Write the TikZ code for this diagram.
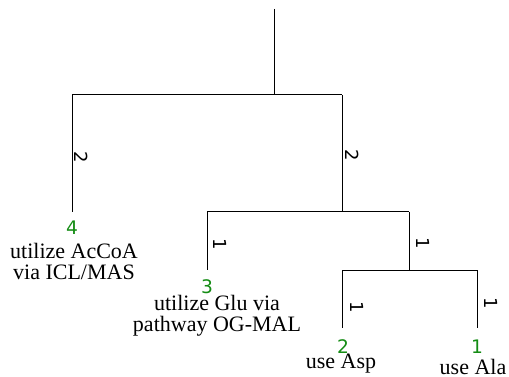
\documentclass[tikz,border=0pt]{standalone}
\usepackage{fontspec}
\setmainfont{Liberation Serif}
\newfontfamily\numfont{DejaVu Sans}
\definecolor{leafgreen}{RGB}{20,140,20}
\tikzset{
  edge/.style={draw=black, line width=0.75pt},
  leafid/.style={font=\numfont\fontsize{14}{15}\selectfont, text=leafgreen, inner sep=0pt},
  leafname/.style={font=\fontsize{16.5}{15.75}\selectfont, align=center, inner sep=0pt},
  blen/.style={font=\numfont\fontsize{13.5}{15}\selectfont, rotate=-90, inner sep=0pt}
}
\begin{document}
\begin{tikzpicture}[x=0.75pt,y=-0.75pt]
\useasboundingbox (0,0) rectangle (509,377);
% coordinates
\coordinate (top) at (274,9);
\coordinate (root) at (274,95);
\coordinate (rl) at (72,95);
\coordinate (rr) at (342,95);
\coordinate (l4) at (72,212);
\coordinate (a) at (342,212);
\coordinate (al) at (207,212);
\coordinate (ar) at (409,212);
\coordinate (l3) at (207,270);
\coordinate (b) at (409,270);
\coordinate (bl) at (342,270);
\coordinate (br) at (477,270);
\coordinate (l2) at (342,328);
\coordinate (l1) at (477,328);
% edges
\draw[edge] (top) -- (root);
\draw[edge] (rl) -- (rr);
\draw[edge] (rl) -- (l4);
\draw[edge] (rr) -- (a);
\draw[edge] (al) -- (ar);
\draw[edge] (al) -- (l3);
\draw[edge] (ar) -- (b);
\draw[edge] (bl) -- (br);
\draw[edge] (bl) -- (l2);
\draw[edge] (br) -- (l1);
% branch lengths
\node[blen] (e4) at (81,157) {2};
\node[blen] (ea) at (352,155) {2};
\node[blen] (e3) at (220,244) {1};
\node[blen] (eb) at (423,243) {1};
\node[blen] (e2) at (357,307) {1};
\node[blen] (e1) at (491,303) {1};
% leaf labels
\node[leafid] (id4) at (72,228) {4};
\node[leafname] (n4) at (74,261) {utilize AcCoA\\via ICL/MAS};
\node[leafid] (id3) at (207,287) {3};
\node[leafname] (n3) at (217,316) {utilize Glu via\\pathway OG-MAL};
\node[leafid] (id2) at (343,347) {2};
\node[leafname] (n2) at (341,364) {use Asp};
\node[leafid] (id1) at (477,347) {1};
\node[leafname] (n1) at (473,367) {use Ala};
\end{tikzpicture}
\end{document}
